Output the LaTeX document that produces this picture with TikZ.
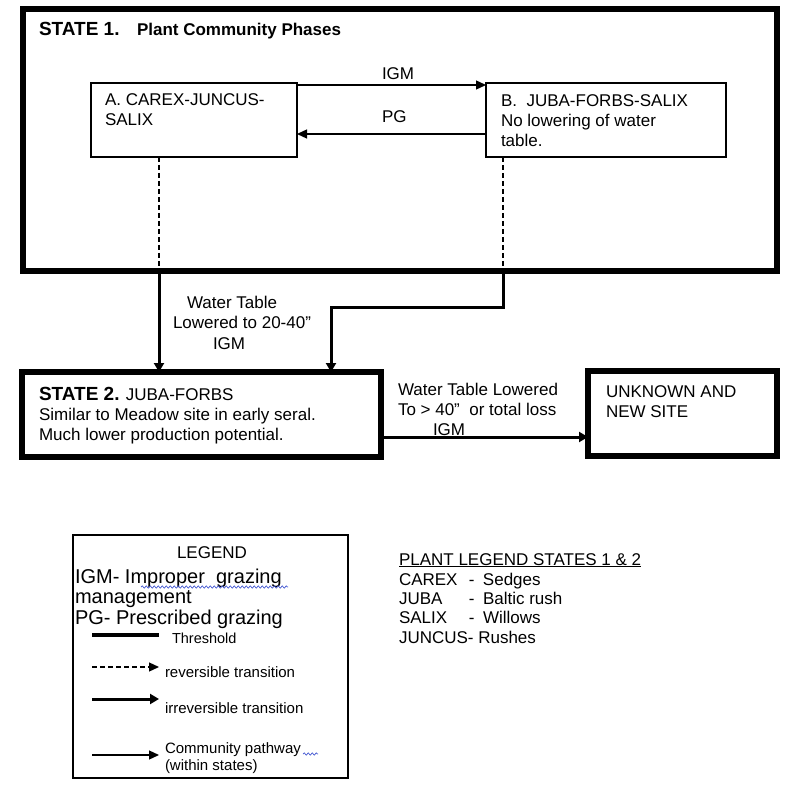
\documentclass[tikz,border=0pt]{standalone}
\usepackage{fontspec}
\setmainfont{Liberation Sans}
\usetikzlibrary{arrows.meta,decorations.pathmorphing}
\definecolor{wavyblue}{RGB}{70,90,210}
\begin{document}
\begin{tikzpicture}[x=1pt,y=-1pt,
 thickbox/.style={draw,line width=5.5pt,inner sep=0,outer sep=0,anchor=north west},
 thinbox/.style={draw,line width=1.3pt,inner sep=0,outer sep=0,anchor=north west},
 txt/.style={inner sep=0,outer sep=0,anchor=base west,align=left,font=\fontsize{17}{20}\selectfont},
 boldtxt/.style={txt,font=\bfseries\fontsize{19}{20}\selectfont},
 thinarrow/.style={-{Triangle[length=10pt,width=9pt]}, line width=1.3pt},
 thickarrow/.style={-{Triangle[length=9pt,width=10pt]}, line width=3pt},
 dashline/.style={line width=1.3pt, dash pattern=on 5pt off 3pt},
 wavy/.style={draw=wavyblue, line width=0.7pt, decorate, decoration={snake,amplitude=1.1pt,segment length=4pt}},
]
\useasboundingbox[fill=white] (0,0) rectangle (800,791);

% ---------- boxes ----------
\node[thickbox,minimum width=754pt,minimum height=262pt] (s1) at (23,9) {};
\node[thinbox,minimum width=206pt,minimum height=74pt] (A) at (91,83) {};
\node[thinbox,minimum width=240pt,minimum height=74pt] (B) at (486,83) {};
\node[thickbox,minimum width=359pt,minimum height=85pt] (s2) at (22,372) {};
\node[thickbox,minimum width=189pt,minimum height=85pt] (unk) at (588,371) {};
\node[thinbox,minimum width=275pt,minimum height=243pt] (leg) at (73,535) {};

% ---------- State 1 texts (multi-line nodes are anchored at their last baseline) ----------
\node[boldtxt] (s1t) at (39,36) {STATE 1.};
\node[txt,font=\bfseries\fontsize{17}{20}\selectfont] (s1p) at (137,36) {Plant Community Phases};
\node[txt] (at) at (105,126) {A. CAREX-JUNCUS-\\SALIX};
\node[txt] (bt) at (501,147) {B.\ \ JUBA-FORBS-SALIX\\No lowering of water\\table.};
\node[txt] (igm) at (382,80) {IGM};
\node[txt] (pg) at (382,123) {PG};

% ---------- within-state pathways ----------
\coordinate (ia) at (297,85);
\coordinate (pa) at (297,134);
\draw[thinarrow] (ia) -- (ia -| B.west);
\draw[thinarrow] (pa -| B.west) -- (pa);

% ---------- transitions to State 2 ----------
\coordinate (ta) at (159,271);
\coordinate (tb) at (503,271);
\coordinate (bb) at (503,308);
\coordinate (bc) at (331,308);
\draw[dashline] (A.south -| ta) -- (ta);
\draw[thickarrow] (ta) -- (ta |- s2.north);
\draw[dashline] (B.south -| tb) -- (tb);
\draw[thickarrow] (tb) -- (bb) -- (bc) -- (bc |- s2.north);

\node[txt] (wt1) at (187,309) {Water Table};
\node[txt] (wt2) at (173,329) {Lowered to 20-40”};
\node[txt] (wt3) at (213,349) {IGM};

% ---------- State 2 ----------
\node[txt] (s2t) at (39,440) {{\bfseries\fontsize{19}{20}\selectfont STATE 2.} JUBA-FORBS\\Similar to Meadow site in early seral.\\Much lower production potential.};

\coordinate (sa) at (381,437);
\draw[thickarrow] (sa) -- (sa -| unk.west);
\node[txt] (wl1) at (398,415) {Water Table Lowered\\To > 40”\ \ or total loss};
\node[txt] (wl2) at (433,435) {IGM};
\node[txt] (ut) at (606,417) {UNKNOWN AND\\NEW SITE};

% ---------- Legend ----------
\node[txt,anchor=base] (lt) at (212,558) {LEGEND};
\node[txt,font=\fontsize{20}{20.5}\selectfont] (l1) at (75,624) {IGM- Improper\ \ grazing\\management\\PG- Prescribed grazing};
\draw[wavy] (141,587) -- (288,587);

\coordinate (th1) at (92,635);
\coordinate (th2) at (159,635);
\draw[line width=4pt] (th1) -- (th2);
\node[txt,font=\fontsize{14.5}{17}\selectfont] (tht) at (172,643) {Threshold};

\coordinate (r1) at (92,667);
\coordinate (r2) at (159,667);
\draw[dashline,-{Triangle[length=10pt,width=9pt]}] (r1) -- (r2);
\node[txt,font=\fontsize{15}{17}\selectfont] (rt) at (165,677) {reversible transition};

\coordinate (i1) at (92,699);
\coordinate (i2) at (159,699);
\draw[thickarrow] (i1) -- (i2);
\node[txt,font=\fontsize{15}{17}\selectfont] (it) at (165,713) {irreversible transition};

\coordinate (c1) at (92,755);
\coordinate (c2) at (159,755);
\draw[thinarrow] (c1) -- (c2);
\node[txt,font=\fontsize{15}{17}\selectfont] (ct) at (165,770) {Community pathway\\(within states)};
\draw[wavy] (303,754) -- (318,754);

% ---------- Plant legend ----------
\node[txt] (pl) at (399,565) {\underline{PLANT LEGEND STATES 1 \& 2}};
\node[txt] (p1) at (399,585) {\makebox[70pt][l]{CAREX}\makebox[14pt][l]{-}Sedges};
\node[txt] (p2) at (399,604) {\makebox[70pt][l]{JUBA}\makebox[14pt][l]{-}Baltic rush};
\node[txt] (p3) at (399,623) {\makebox[70pt][l]{SALIX}\makebox[14pt][l]{-}Willows};
\node[txt] (p4) at (399,643) {JUNCUS- Rushes};
\end{tikzpicture}
\end{document}
